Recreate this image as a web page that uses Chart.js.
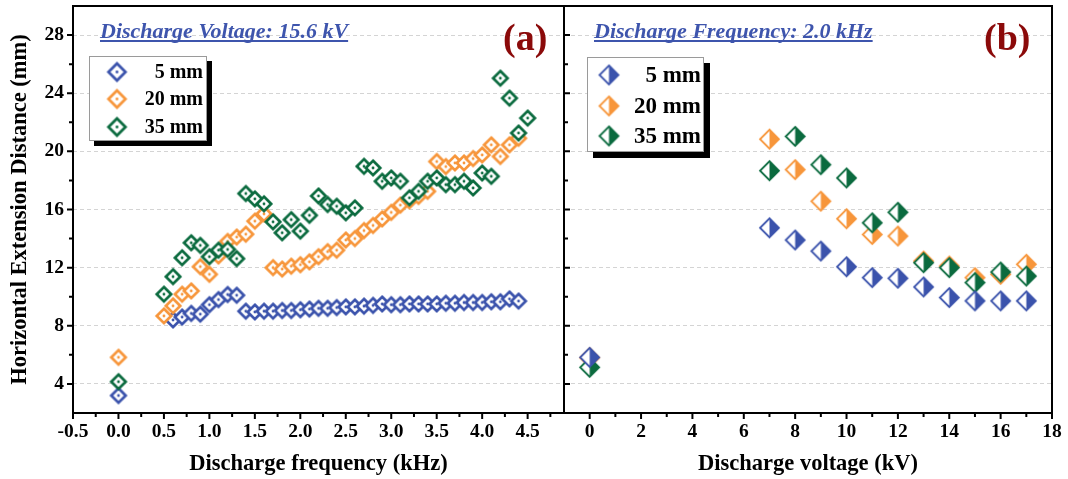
<!DOCTYPE html>
<html>
<head>
<meta charset="utf-8">
<script src="https://cdn.jsdelivr.net/npm/chart.js@4"></script>
<style>
  body { margin: 0; background: #fff; }
  #wrap { position: relative; width: 1068px; height: 479px; }
  .pane { position: absolute; top: 0; height: 479px; }
</style>
</head>
<body>
<div id="wrap">
  <div class="pane" style="left:0;width:566px"><canvas id="chartA"></canvas></div>
  <div class="pane" style="left:540px;width:528px"><canvas id="chartB"></canvas></div>
</div>
<script>
// (a) discharge frequency sweep, voltage 15.6 kV
const freq5 = [0.0, 0.6, 0.7, 0.8, 0.9, 1.0, 1.1, 1.2, 1.3, 1.4, 1.5, 1.6, 1.7, 1.8, 1.9, 2.0, 2.1, 2.2, 2.3, 2.4, 2.5,
               2.6, 2.7, 2.8, 2.9, 3.0, 3.1, 3.2, 3.3, 3.4, 3.5, 3.6, 3.7, 3.8, 3.9, 4.0, 4.1, 4.2, 4.3, 4.4];
const dist5 = [3.2, 8.4, 8.6, 8.85, 8.8, 9.45, 9.8, 10.15, 10.1, 9.0, 8.95, 9.0, 9.0, 9.05, 9.05, 9.1, 9.15, 9.2, 9.2, 9.25, 9.3,
               9.3, 9.35, 9.4, 9.5, 9.45, 9.45, 9.5, 9.5, 9.5, 9.5, 9.55, 9.55, 9.6, 9.6, 9.6, 9.65, 9.65, 9.85, 9.7];

const freq20 = [0.0, 0.5, 0.6, 0.7, 0.8, 0.9, 1.0, 1.1, 1.2, 1.3, 1.4, 1.5, 1.6, 1.7, 1.8, 1.9, 2.0, 2.1, 2.2, 2.3, 2.4,
                2.5, 2.6, 2.7, 2.8, 2.9, 3.0, 3.1, 3.2, 3.3, 3.4, 3.5, 3.6, 3.7, 3.8, 3.9, 4.0, 4.1, 4.2, 4.3, 4.4];
const dist20 = [5.83, 8.68, 9.37, 10.17, 10.4, 12.07, 11.54, 12.8, 13.8, 14.1, 14.3, 15.2, 15.7, 12.0, 11.9, 12.1, 12.2, 12.4,
                12.75, 13.1, 13.2, 13.9, 14.0, 14.55, 14.9, 15.35, 15.8, 16.3, 16.6, 16.9, 17.25, 19.3, 18.95, 19.2, 19.2,
                19.5, 19.75, 20.45, 19.65, 20.45, 20.9];

const freq35 = [0.0, 0.5, 0.6, 0.7, 0.8, 0.9, 1.0, 1.1, 1.2, 1.3, 1.4, 1.5, 1.6, 1.7, 1.8, 1.9, 2.0, 2.1, 2.2, 2.3, 2.4,
                2.5, 2.6, 2.7, 2.8, 2.9, 3.0, 3.1, 3.2, 3.3, 3.4, 3.5, 3.6, 3.7, 3.8, 3.9, 4.0, 4.1, 4.2, 4.3, 4.4, 4.5];
const dist35 = [4.15, 10.17, 11.38, 12.68, 13.71, 13.53, 12.75, 13.2, 13.25, 12.62, 17.1, 16.73, 16.39, 15.15, 14.4, 15.3,
                14.51, 15.6, 16.93, 16.34, 16.22, 15.77, 16.11, 18.97, 18.86, 17.94, 18.17, 17.94, 16.8, 17.25, 17.94,
                18.17, 17.71, 17.71, 17.94, 17.48, 18.51, 18.28, 25.03, 23.66, 21.26, 22.29];

// (b) discharge voltage sweep, frequency 2.0 kHz
const volt = [0, 7, 8, 9, 10, 11, 12, 13, 14, 15, 16, 17];
const volt5 = [5.83, 14.74, 13.9, 13.14, 12.06, 11.31, 11.27, 10.67, 9.94, 9.71, 9.71, 9.71];
const volt20 = [5.8, 20.84, 18.74, 16.57, 15.36, 14.28, 14.17, 12.45, 12.11, 11.31, 11.54, 12.23];
const volt35 = [5.14, 18.67, 21.03, 19.08, 18.17, 15.08, 15.81, 12.34, 12.0, 10.97, 11.7, 11.42];

const seriesNames = ['5 mm', '20 mm', '35 mm'];
const freqTicks = [-0.5, 0.0, 0.5, 1.0, 1.5, 2.0, 2.5, 3.0, 3.5, 4.0, 4.5];
const voltTicks = [0, 2, 4, 6, 8, 10, 12, 14, 16, 18];
const distTicks = [4, 8, 12, 16, 20, 24, 28];

const BLUE = '#3b53ac', ORANGE = '#f7963b', GREEN = '#0b6b3f';
const TITLE_BLUE = '#3e55ad', LABEL_RED = '#8b0a0a';
const SERIF = '"Liberation Serif", "Times New Roman", serif';

// marker images
function diamondPath(g, m, r) {
    g.beginPath();
    g.moveTo(m, m - r); g.lineTo(m + r, m); g.lineTo(m, m + r); g.lineTo(m - r, m);
    g.closePath();
}

function openDiamond(color, r, lw) {
    const c = document.createElement('canvas');
    const s = Math.ceil(2 * r + 2 * lw + 2);
    c.width = s; c.height = s;
    const g = c.getContext('2d');
    const m = s / 2;
    diamondPath(g, m, r);
    g.fillStyle = '#fff';
    g.fill();
    g.strokeStyle = color;
    g.lineWidth = lw;
    g.stroke();
    g.fillStyle = color;
    g.beginPath();
    g.arc(m, m, 1.4, 0, Math.PI * 2);
    g.fill();
    return c;
}

function halfDiamond(color, r, lw) {
    const c = document.createElement('canvas');
    const s = Math.ceil(2 * r + 2 * lw + 2);
    c.width = s; c.height = s;
    const g = c.getContext('2d');
    const m = s / 2;
    diamondPath(g, m, r);
    g.fillStyle = '#fff';
    g.fill();
    g.beginPath();
    g.moveTo(m, m - r); g.lineTo(m + r, m); g.lineTo(m, m + r);
    g.closePath();
    g.fillStyle = color;
    g.fill();
    diamondPath(g, m, r);
    g.strokeStyle = color;
    g.lineWidth = lw;
    g.stroke();
    return c;
}

const colors = [BLUE, ORANGE, GREEN];
const openMarks = colors.map(c => openDiamond(c, 7.2, 2.7));
const openLegend = colors.map(c => openDiamond(c, 8.5, 2.7));
const halfMarks = colors.map(c => halfDiamond(c, 9.5, 1.8));

function toPoints(xs, ys) {
    return xs.map((x, i) => ({ x: x, y: ys[i] }));
}

function minorValues(ticks, min, max) {
    const out = [];
    const step = ticks[1] - ticks[0];
    if (ticks[0] - step / 2 > min + 1e-9) out.push(ticks[0] - step / 2);
    for (let i = 0; i < ticks.length - 1; i++) out.push((ticks[i] + ticks[i + 1]) / 2);
    if (ticks[ticks.length - 1] + step / 2 < max - 1e-9) out.push(ticks[ticks.length - 1] + step / 2);
    return out;
}

function drawTitle(ctx, text, x, y) {
    ctx.font = 'italic bold 22px ' + SERIF;
    ctx.fillStyle = TITLE_BLUE;
    ctx.textAlign = 'left';
    ctx.textBaseline = 'alphabetic';
    ctx.fillText(text, x, y);
    const w = ctx.measureText(text).width;
    ctx.strokeStyle = TITLE_BLUE;
    ctx.lineWidth = 1.8;
    ctx.beginPath();
    ctx.moveTo(x, y + 3);
    ctx.lineTo(x + w, y + 3);
    ctx.stroke();
}

function drawPanelLabel(ctx, text, x, y) {
    ctx.font = 'bold 38px ' + SERIF;
    ctx.fillStyle = LABEL_RED;
    ctx.textAlign = 'left';
    ctx.textBaseline = 'alphabetic';
    ctx.fillText(text, x, y);
}

function drawLegend(ctx, box, marks, rows, fontSize) {
    ctx.fillStyle = '#000';
    ctx.fillRect(box.x + box.shadow, box.y + box.shadow, box.w, box.h);
    ctx.fillStyle = '#fff';
    ctx.fillRect(box.x, box.y, box.w, box.h);
    ctx.strokeStyle = '#9a9a9a';
    ctx.lineWidth = 1;
    ctx.strokeRect(box.x + 0.5, box.y + 0.5, box.w - 1, box.h - 1);
    ctx.font = 'bold ' + fontSize + 'px ' + SERIF;
    ctx.fillStyle = '#000';
    ctx.textAlign = 'right';
    ctx.textBaseline = 'middle';
    rows.forEach((ry, i) => {
        const img = marks[i];
        ctx.drawImage(img, box.markX - img.width / 2, ry - img.height / 2);
        ctx.fillText(seriesNames[i], box.textX, ry + 1);
    });
}

function drawTicks(ctx, scale, values, len, edge, base) {
    ctx.beginPath();
    values.forEach(v => {
        const p = scale.getPixelForValue(v);
        if (edge === 'bottom') { ctx.moveTo(p, base); ctx.lineTo(p, base + len); }
        if (edge === 'left') { ctx.moveTo(base, p); ctx.lineTo(base - len, p); }
        if (edge === 'inRight') { ctx.moveTo(base, p); ctx.lineTo(base + len, p); }
    });
    ctx.stroke();
}

const frameA = {
    id: 'frameA',
    afterDraw(chart) {
        const { ctx, chartArea: a, scales: { x, y } } = chart;
        ctx.save();
        ctx.strokeStyle = '#000';
        ctx.lineWidth = 2;
        ctx.strokeRect(a.left, a.top, a.right - a.left, a.bottom - a.top);
        drawTicks(ctx, x, freqTicks, 6, 'bottom', a.bottom);
        drawTicks(ctx, x, minorValues(freqTicks, x.min, x.max), 4, 'bottom', a.bottom);
        drawTicks(ctx, y, distTicks, 6, 'left', a.left);
        drawTicks(ctx, y, minorValues(distTicks, y.min, y.max), 4, 'left', a.left);
        drawTitle(ctx, 'Discharge Voltage: 15.6 kV', 100, 38);
        drawPanelLabel(ctx, '(a)', 503, 50);
        drawLegend(ctx, { x: 89, y: 56, w: 118, h: 85, shadow: 5, markX: 117, textX: 203 },
            openLegend, [72, 99, 127], 20);
        ctx.restore();
    }
};

const frameB = {
    id: 'frameB',
    afterDraw(chart) {
        const { ctx, chartArea: a, scales: { x, y } } = chart;
        ctx.save();
        ctx.strokeStyle = '#000';
        ctx.lineWidth = 2;
        ctx.strokeRect(a.left, a.top, a.right - a.left, a.bottom - a.top);
        drawTicks(ctx, x, voltTicks, 6, 'bottom', a.bottom);
        drawTicks(ctx, x, minorValues(voltTicks, x.min, x.max), 4, 'bottom', a.bottom);
        drawTicks(ctx, y, distTicks, 6, 'inRight', a.left);
        drawTicks(ctx, y, minorValues(distTicks, y.min, y.max), 4, 'inRight', a.left);
        drawTitle(ctx, 'Discharge Frequency: 2.0 kHz', 54, 38);
        drawPanelLabel(ctx, '(b)', 444, 50);
        drawLegend(ctx, { x: 47, y: 57, w: 117, h: 95, shadow: 6, markX: 69, textX: 161 },
            halfMarks, [75, 106, 136], 23);
        ctx.restore();
    }
};

const tickFont = { family: SERIF, size: 19.5, weight: 'bold' };
const titleFont = { family: SERIF, size: 22.5, weight: 'bold' };

// fixed axis sizes so both panels line up; drop the label overhang padding
const yScale = (showLabels, width) => ({
    type: 'linear',
    min: 2,
    max: 30,
    afterBuildTicks: s => { s.ticks = distTicks.map(v => ({ value: v })); },
    afterFit: s => { s.width = width; s.paddingTop = 0; s.paddingBottom = 0; },
    ticks: { display: showLabels, font: tickFont, color: '#000', padding: 9 },
    grid: { color: '#d4d4d4', lineWidth: 1, drawTicks: false },
    border: { display: false, dash: [4, 3] },
    title: {
        display: showLabels,
        text: 'Horizontal Extension Distance (mm)',
        font: titleFont,
        color: '#000',
        padding: { top: 7 }
    }
});

const xScale = (min, max, tickVals, label, decimals) => ({
    type: 'linear',
    min: min,
    max: max,
    afterBuildTicks: s => { s.ticks = tickVals.map(v => ({ value: v })); },
    afterFit: s => { s.height = 66; s.paddingLeft = 0; s.paddingRight = 0; },
    ticks: {
        font: tickFont,
        color: '#000',
        padding: 7,
        callback: v => v.toFixed(decimals)
    },
    grid: { display: false, drawTicks: false },
    border: { display: false },
    title: { display: true, text: label, font: titleFont, color: '#000', padding: { bottom: 1 } }
});

const commonOpts = {
    responsive: true,
    maintainAspectRatio: false,
    animation: false,
    events: [],
    plugins: { legend: { display: false }, tooltip: { enabled: false } }
};

new Chart(document.getElementById('chartA'), {
    type: 'scatter',
    data: {
        datasets: [
            { label: seriesNames[0], data: toPoints(freq5, dist5), pointStyle: openMarks[0], pointRadius: 6, order: 2 },
            { label: seriesNames[1], data: toPoints(freq20, dist20), pointStyle: openMarks[1], pointRadius: 6, order: 1 },
            { label: seriesNames[2], data: toPoints(freq35, dist35), pointStyle: openMarks[2], pointRadius: 6, order: 0 }
        ]
    },
    options: Object.assign({}, commonOpts, {
        layout: { autoPadding: false, padding: { left: 0, right: 2, top: 6, bottom: 0 } },
        scales: {
            x: xScale(-0.5, 4.9, freqTicks, 'Discharge frequency (kHz)', 1),
            y: yScale(true, 73)
        }
    }),
    plugins: [frameA]
});

new Chart(document.getElementById('chartB'), {
    type: 'scatter',
    data: {
        datasets: [
            { label: seriesNames[0], data: toPoints(volt, volt5), pointStyle: halfMarks[0], pointRadius: 6, order: 0 },
            { label: seriesNames[1], data: toPoints(volt, volt20), pointStyle: halfMarks[1], pointRadius: 6, order: 2 },
            { label: seriesNames[2], data: toPoints(volt, volt35), pointStyle: halfMarks[2], pointRadius: 6, order: 1 }
        ]
    },
    options: Object.assign({}, commonOpts, {
        layout: { autoPadding: false, padding: { left: 0, right: 16, top: 6, bottom: 0 } },
        scales: {
            x: xScale(-1, 18, voltTicks, 'Discharge voltage (kV)', 0),
            y: yScale(false, 24)
        }
    }),
    plugins: [frameB]
});
</script>
</body>
</html>
